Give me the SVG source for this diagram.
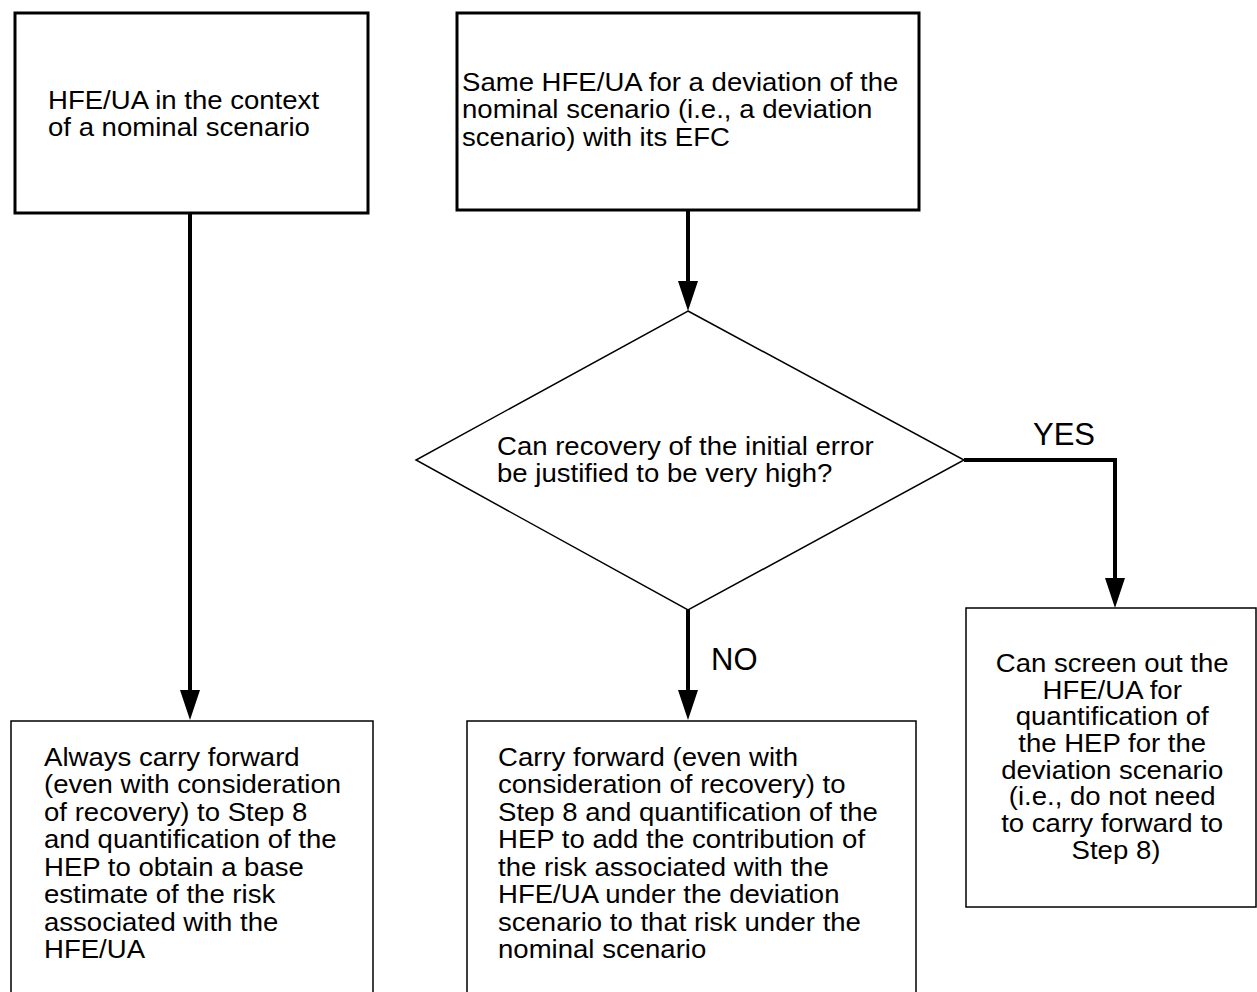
<svg xmlns="http://www.w3.org/2000/svg" width="1257" height="992" viewBox="0 0 1257 992">
  <style>
    .thick { fill: #ffffff; stroke: #000000; stroke-width: 3; }
    .thin { fill: #ffffff; stroke: #000000; stroke-width: 1.5; }
    .dia { fill: #ffffff; stroke: #000000; stroke-width: 1.5; }
    .conn { fill: none; stroke: #000000; stroke-width: 4; }
    .t { font-family: "Liberation Sans", Arial, Helvetica, sans-serif; font-size: 26px; fill: #000000; }
    .lbl { font-family: "Liberation Sans", Arial, Helvetica, sans-serif; font-size: 31px; fill: #000000; }
  </style>
  <defs>
    <marker id="arr" viewBox="0 0 30 20" refX="20" refY="10" markerWidth="30" markerHeight="20" markerUnits="userSpaceOnUse" orient="auto">
      <path d="M0,0 L30,10 L0,20 z" fill="#000000"/>
    </marker>
  </defs>
  <rect width="1257" height="992" fill="#ffffff"/>

  <g id="connectors">
    <line class="conn" x1="190" y1="213" x2="190" y2="710" marker-end="url(#arr)"/>
    <line class="conn" x1="688" y1="210" x2="688" y2="301" marker-end="url(#arr)"/>
    <line class="conn" x1="688" y1="610" x2="688" y2="710" marker-end="url(#arr)"/>
    <polyline class="conn" points="964,460 1115,460 1115,598" marker-end="url(#arr)"/>
    <text class="lbl" x="1033" y="445">YES</text>
    <text class="lbl" x="711" y="670">NO</text>
  </g>

  <g id="node-nominal">
    <rect class="thick" x="15" y="13" width="353" height="200"/>
    <text class="t" transform="translate(48 0) scale(1.06 1)">
      <tspan x="0" y="109">HFE/UA in the context</tspan>
      <tspan x="0" y="136.5">of a nominal scenario</tspan>
    </text>
  </g>

  <g id="node-deviation">
    <rect class="thick" x="457" y="13" width="462" height="197"/>
    <text class="t" transform="translate(462 0) scale(1.06 1)">
      <tspan x="0" y="91">Same HFE/UA for a deviation of the</tspan>
      <tspan x="0" y="118.5">nominal scenario (i.e., a deviation</tspan>
      <tspan x="0" y="146">scenario) with its EFC</tspan>
    </text>
  </g>

  <g id="node-decision">
    <polygon class="dia" points="688,311 964,460 688,610 416,460"/>
    <text class="t" transform="translate(497 0) scale(1.06 1)">
      <tspan x="0" y="455">Can recovery of the initial error</tspan>
      <tspan x="0" y="482.5">be justified to be very high?</tspan>
    </text>
  </g>

  <g id="node-always">
    <rect class="thin" x="11" y="721" width="362" height="290"/>
    <text class="t" transform="translate(44 0) scale(1.06 1)">
      <tspan x="0" y="766">Always carry forward</tspan>
      <tspan x="0" y="793.5">(even with consideration</tspan>
      <tspan x="0" y="821">of recovery) to Step 8</tspan>
      <tspan x="0" y="848.5">and quantification of the</tspan>
      <tspan x="0" y="876">HEP to obtain a base</tspan>
      <tspan x="0" y="903.5">estimate of the risk</tspan>
      <tspan x="0" y="931">associated with the</tspan>
      <tspan x="0" y="958.5">HFE/UA</tspan>
    </text>
  </g>

  <g id="node-carry">
    <rect class="thin" x="467" y="721" width="449" height="290"/>
    <text class="t" transform="translate(498 0) scale(1.06 1)">
      <tspan x="0" y="766">Carry forward (even with</tspan>
      <tspan x="0" y="793.5">consideration of recovery) to</tspan>
      <tspan x="0" y="821">Step 8 and quantification of the</tspan>
      <tspan x="0" y="848.5">HEP to add the contribution of</tspan>
      <tspan x="0" y="876">the risk associated with the</tspan>
      <tspan x="0" y="903.5">HFE/UA under the deviation</tspan>
      <tspan x="0" y="931">scenario to that risk under the</tspan>
      <tspan x="0" y="958.5">nominal scenario</tspan>
    </text>
  </g>

  <g id="node-screen">
    <rect class="thin" x="966" y="608" width="290" height="299"/>
    <text class="t" text-anchor="middle" transform="translate(1116 0) scale(1.06 1)">
      <tspan x="0" y="672">Can screen out the</tspan>
      <tspan x="0" y="698.7">HFE/UA for</tspan>
      <tspan x="0" y="725.4">quantification of</tspan>
      <tspan x="0" y="752.1">the HEP for the</tspan>
      <tspan x="0" y="778.8">deviation scenario</tspan>
      <tspan x="0" y="805.5">(i.e., do not need</tspan>
      <tspan x="0" y="832.2">to carry forward to</tspan>
      <tspan x="0" y="858.9">Step 8)</tspan>
    </text>
  </g>
</svg>
